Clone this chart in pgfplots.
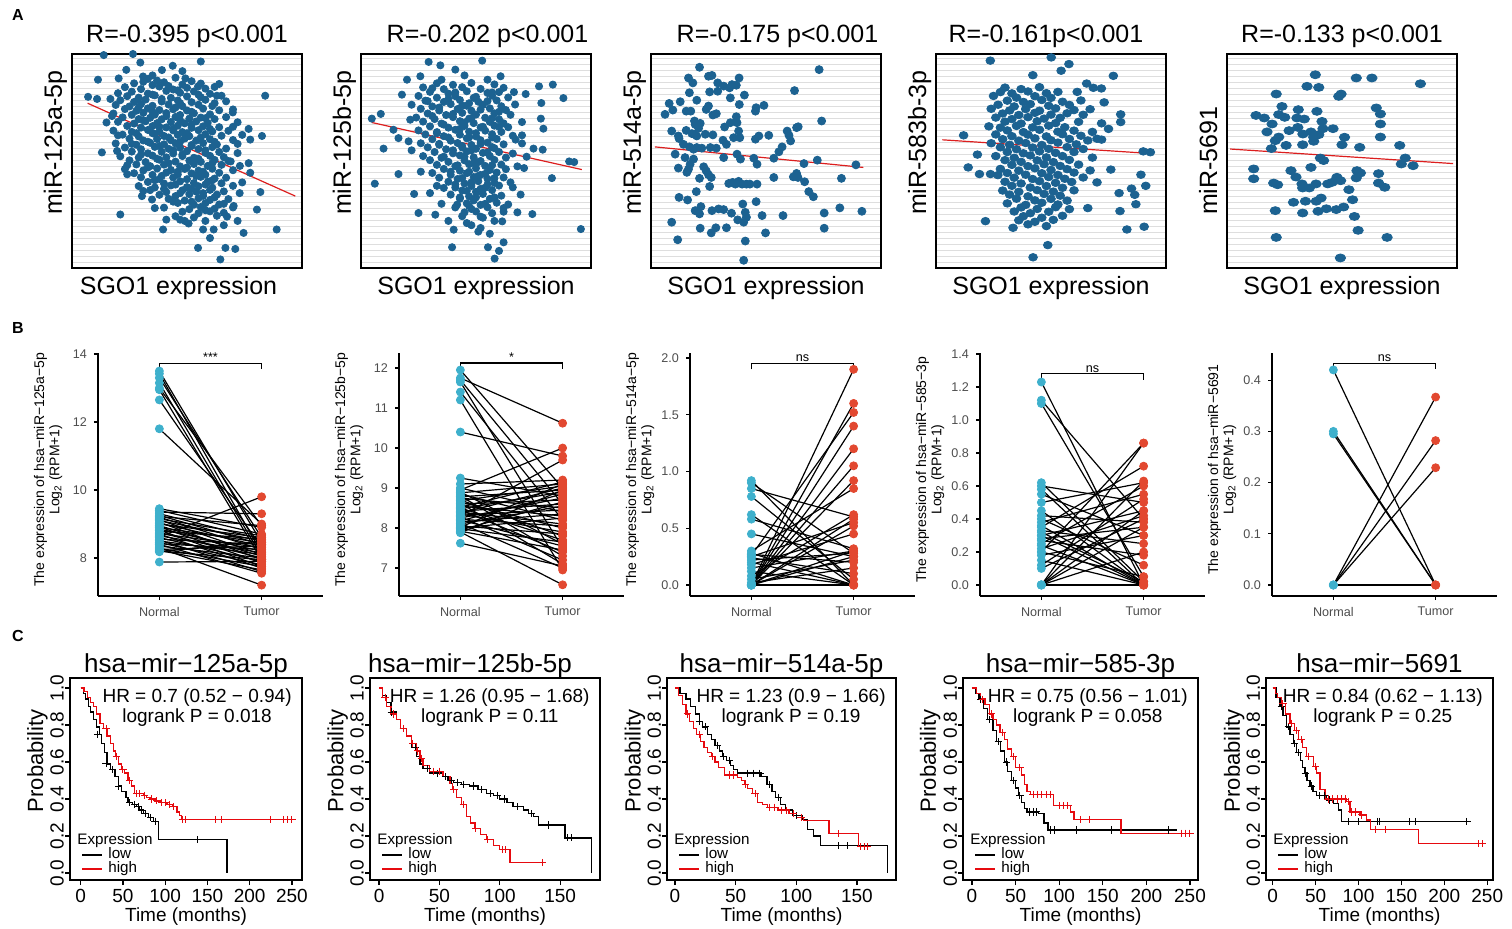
\documentclass[border=0pt]{standalone}
\usepackage{fontspec}
\setmainfont{Liberation Sans}
\usepackage{pgfplots}
\usepackage{pgfplotstable}
\pgfplotsset{compat=1.18}
\definecolor{ptA}{RGB}{28,98,145}
\definecolor{regA}{RGB}{220,30,30}
\definecolor{gridA}{RGB}{222,222,222}
\definecolor{cyanB}{RGB}{62,176,204}
\definecolor{redB}{RGB}{226,72,48}
\definecolor{tickgray}{RGB}{77,77,77}
\definecolor{kmred}{RGB}{230,10,15}
\newcommand\fsA{\fontsize{12.5}{14}\selectfont}
\newcommand\fsBt{\fontsize{6.3}{7.5}\selectfont}
\newcommand\fsBl{\fontsize{7}{7.6}\selectfont}
\newcommand\fsCt{\fontsize{9.5}{11}\selectfont}
\newcommand\fsCT{\fontsize{13}{15}\selectfont}
\newcommand\fsHR{\fontsize{9.5}{10.2}\selectfont}
\newcommand\fsL{\fontsize{7.6}{8}\selectfont}
\newcommand\fsP{\fontsize{11}{12}\selectfont}

\pgfplotstableread[row sep=\\]{N T\\
13.50 8.45\\ 13.42 8.15\\ 13.30 8.60\\ 13.15 8.05\\ 13.00 8.95\\ 12.95 7.95\\ 12.65 8.30\\ 11.80 9.00\\
9.45 8.90\\ 9.40 8.70\\ 9.35 9.30\\ 9.30 8.55\\ 9.25 8.40\\ 9.22 8.95\\ 9.20 8.25\\ 9.15 8.65\\
9.12 8.10\\ 9.10 8.50\\ 9.05 7.95\\ 9.02 8.35\\ 9.00 8.60\\ 8.95 8.05\\ 8.92 7.85\\ 8.90 8.45\\
8.85 8.20\\ 8.82 7.75\\ 8.80 8.55\\ 8.75 8.00\\ 8.72 8.30\\ 8.70 7.70\\ 8.65 8.15\\ 8.62 9.80\\
8.60 7.90\\ 8.55 8.40\\ 8.52 7.60\\ 8.50 8.10\\ 8.45 7.80\\ 8.42 8.25\\ 8.40 7.55\\ 8.35 8.00\\
8.30 7.20\\ 8.28 7.75\\ 8.25 8.35\\ 8.22 7.65\\ 8.20 7.95\\ 8.18 8.50\\ 7.88 7.90\\}\tabBa
\pgfplotstableread[row sep=\\]{N T\\
11.95 9.00\\ 11.75 10.62\\ 11.70 8.60\\ 11.65 7.50\\ 11.40 8.20\\ 11.20 6.95\\ 10.40 9.80\\ 9.25 8.80\\
9.10 9.20\\ 9.00 8.40\\ 8.95 10.00\\ 8.90 7.60\\ 8.88 9.10\\ 8.85 8.20\\ 8.80 7.30\\ 8.78 8.95\\
8.75 8.50\\ 8.70 7.80\\ 8.68 9.05\\ 8.65 8.00\\ 8.62 7.10\\ 8.60 8.70\\ 8.55 8.30\\ 8.52 9.15\\
8.50 7.70\\ 8.48 8.90\\ 8.45 7.40\\ 8.42 8.60\\ 8.40 8.10\\ 8.38 9.00\\ 8.35 7.90\\ 8.32 8.45\\
8.30 9.70\\ 8.28 7.20\\ 8.25 8.75\\ 8.22 8.05\\ 8.20 7.55\\ 8.18 8.85\\ 8.15 8.35\\ 8.12 7.00\\
8.10 8.55\\ 8.05 7.85\\ 8.02 9.10\\ 8.00 8.25\\ 7.98 7.65\\ 7.95 8.65\\ 7.92 7.45\\ 7.90 6.58\\
7.88 8.95\\ 7.62 7.05\\}\tabBb
\pgfplotstableread[row sep=\\]{N T\\
0.92 0.00\\ 0.90 0.28\\ 0.85 0.60\\ 0.78 0.05\\ 0.62 0.00\\ 0.58 0.32\\ 0.45 0.25\\ 0.30 0.85\\
0.28 0.00\\ 0.27 0.20\\ 0.26 1.52\\ 0.25 0.55\\ 0.24 0.10\\ 0.22 0.28\\ 0.20 0.00\\ 0.18 0.45\\
0.15 0.30\\ 0.12 0.00\\ 0.08 0.62\\ 0.05 0.22\\ 0.00 1.90\\ 0.00 1.60\\ 0.00 1.40\\ 0.00 1.20\\
0.00 1.05\\ 0.00 0.92\\ 0.00 0.52\\ 0.00 0.58\\ 0.00 0.25\\ 0.00 0.00\\ 0.00 0.30\\ 0.02 0.15\\}\tabBc
\pgfplotstableread[row sep=\\]{N T\\
1.23 0.00\\ 1.12 0.40\\ 1.10 0.05\\ 0.62 0.02\\ 0.60 0.50\\ 0.58 0.00\\ 0.55 0.30\\ 0.50 0.62\\
0.45 0.00\\ 0.42 0.38\\ 0.40 0.12\\ 0.38 0.55\\ 0.36 0.00\\ 0.35 0.72\\ 0.33 0.25\\ 0.32 0.02\\
0.30 0.45\\ 0.30 0.00\\ 0.28 0.35\\ 0.27 0.18\\ 0.25 0.60\\ 0.24 0.00\\ 0.22 0.42\\ 0.20 0.05\\
0.20 0.86\\ 0.18 0.30\\ 0.15 0.00\\ 0.12 0.52\\ 0.10 0.40\\ 0.00 0.86\\ 0.00 0.63\\ 0.00 0.35\\
0.00 0.00\\ 0.00 0.45\\ 0.00 0.20\\}\tabBd
\pgfplotstableread[row sep=\\]{N T\\
0.42 0.0\\ 0.30 0.0\\ 0.295 0.0\\ 0.0 0.367\\ 0.0 0.282\\ 0.0 0.229\\ 0.0 0.0\\}\tabBe

\pgfplotsset{
  /pgf/number format/assume math mode=true,
  stA/.style={scale only axis, width=115pt, height=107pt, anchor=south west,
    xmin=0, xmax=100, ymin=0, ymax=100, xtick=\empty, ytick distance=2.8, yticklabels={},
    major tick length=0pt, ymajorgrids, grid style={color=gridA, line width=0.5pt},
    axis line style={line width=1pt},
    title style={font=\fsA, anchor=base, at={(axis description cs:0.5,1)}, yshift=0pt},
    xlabel={SGO1 expression},
    xlabel style={font=\fsA, anchor=base, at={(axis description cs:0.5,-0.126)}},
    ylabel style={font=\fsA, anchor=base west, at={(axis description cs:-0.0435,0.215)}}},
  dotA/.style={only marks, mark=*, mark size=1.8pt, color=ptA, mark options={fill=ptA, draw=ptA}},
  regA/.style={no marks, color=regA, line width=0.6pt},
  stB/.style={scale only axis, width=112.5pt, height=121.5pt, anchor=south west, clip=false,
    xmin=0.4, xmax=2.6, xtick={1,2}, xticklabels={Normal,Tumor},
    axis x line*=bottom, axis y line*=left, tick align=outside, major tick length=2pt,
    axis line style={line width=0.6pt}, tick style={line width=0.6pt, black},
    ticklabel style={font=\fsBt, color=tickgray},
    ylabel style={font=\fsBl, align=center, anchor=center, at={(axis description cs:-0.222,0.52)}}},
  linB/.style={black, line width=0.6pt, no marks, quiver={u=1, v=\thisrow{T}-\thisrow{N}}},
  nB/.style={only marks, mark=*, mark size=2pt, color=cyanB},
  tB/.style={only marks, mark=*, mark size=2pt, color=redB},
  brB/.style={black, line width=0.6pt, no marks},
  stC/.style={scale only axis, height=101pt, anchor=south west, clip=false,
    ymin=-0.0378, ymax=1.054, ytick={0,0.2,0.4,0.6,0.8,1},
    tick pos=left, tick align=outside, major tick length=2.5pt,
    axis line style={line width=0.75pt}, tick style={line width=0.6pt, black},
    ticklabel style={font=\fsCt},
    yticklabel shift=-3pt, xticklabel shift=-1.5pt,
    yticklabel style={rotate=90, anchor=south, /pgf/number format/.cd, fixed, fixed zerofill, precision=1},
    title style={font=\fsCT, anchor=base, at={(axis description cs:0.5,1)}, yshift=-3pt},
    xlabel={Time (months)}, ylabel={Probability},
    xlabel style={font=\fsCt, anchor=base, at={(axis description cs:0.5,-0.205)}},
    ylabel style={font=\fsP, anchor=center, at={(axis description cs:-0.14,0.59)}}},
  kmB/.style={const plot, black, line width=0.65pt, no marks},
  kmR/.style={const plot, kmred, line width=0.65pt, no marks},
  cB/.style={only marks, mark=+, mark size=1.8pt, black, mark options={line width=0.5pt}},
  cR/.style={only marks, mark=+, mark size=1.8pt, kmred, mark options={line width=0.5pt}},
}
\newcommand\kmlegend{%
  \node[anchor=base west, font=\fsL, inner sep=0pt] at ([xshift=3.5pt,yshift=18pt]rel axis cs:0,0) {Expression};
  \draw[black, line width=0.7pt] ([xshift=6pt,yshift=12.5pt]rel axis cs:0,0) -- ([xshift=16pt,yshift=12.5pt]rel axis cs:0,0);
  \node[anchor=base west, font=\fsL, inner sep=0pt] at ([xshift=19pt,yshift=10.6pt]rel axis cs:0,0) {low};
  \draw[kmred, line width=0.7pt] ([xshift=6pt,yshift=5.6pt]rel axis cs:0,0) -- ([xshift=16pt,yshift=5.6pt]rel axis cs:0,0);
  \node[anchor=base west, font=\fsL, inner sep=0pt] at ([xshift=19pt,yshift=3.8pt]rel axis cs:0,0) {high};}
\newcommand\hr[2]{\node[anchor=north east, align=center, font=\fsHR, inner sep=0pt] at ([xshift=-5pt,yshift=-5pt]rel axis cs:1,1) {#1\\#2};}

\begin{document}
\begin{tikzpicture}
\path[use as bounding box] (0,0) rectangle (756pt,-464pt);
\node[font=\bfseries\fontsize{8}{9}\selectfont] at (9pt,-7.5pt) {A};
\node[font=\bfseries\fontsize{8}{9}\selectfont] at (9pt,-164pt) {B};
\node[font=\bfseries\fontsize{8}{9}\selectfont] at (9pt,-318pt) {C};

% ---------------- Row A ----------------
\begin{axis}[stA, at={(36pt,-134pt)}, title={R=-0.395 p<0.001}, ylabel={miR-125a-5p},
  xlabel style={at={(axis description cs:0.463,-0.126)}}]
\addplot[dotA] coordinates {
(13.8,99.5)(26.5,100)(29.7,96)(56,96.5)(43.8,94.5)(11.3,88)(23.6,92.6)(7,80)(10.9,79)(13,54)(21,25)(39.6,18)(54.8,9.4)(64.5,4)(66.7,9.4)(71,8.9)(74.6,16.4)(89,18)(84,80.5)(81.9,35.5)(76.8,65)(82.6,61.7)(80.4,27.3)(61.6,18)(57,18)(50.7,20.8)(41,22.6)(47,22.6)(30.4,33.6)(34.8,32)(24,43.8)(19.6,54.7)(17.4,71)(16.7,79)(20.3,88.6)(30.9,89.5)(39.1,92.5)(49.3,88.6)(54.8,84.8)(63,80.5)(69.9,72.7)(77.5,60)(73,47.7)(77.5,44.5)(76.8,49)(72.9,35)(70.3,29)(67.4,24)
(33,88.4)(37,87.6)(45,88.9)(52,87.3)
(27,86.3)(35,85.5)(40,86.8)(48,85.7)(56,86.2)
(23,84.5)(30,83.6)(38,84.8)(44,83.4)(50,84.2)(58,83.8)(62,84.6)
(20,81.7)(26,82.4)(33,81.5)(41,82.8)(47,81.9)(53,82.5)(60,81.4)
(24,80.3)(29,79.6)(36,80.7)(43,79.5)(50,80.2)(56,79.8)(65,80.5)
(21,78.4)(27,77.6)(32,78.7)(39,77.8)(46,78.3)(52,77.5)(58,78.6)(67,77.9)
(19,76.2)(25,75.5)(30,76.6)(35,75.8)(42,76.4)(48,75.6)(55,76.3)(61,75.7)
(23,74.3)(28,73.5)(33,74.6)(38,73.8)(44,74.2)(50,73.6)(57,74.5)(64,73.7)(70,74.1)
(18,72.2)(26,71.6)(31,72.5)(36,71.7)(41,72.4)(47,71.5)(53,72.3)(60,71.8)
(22,70.4)(29,69.6)(34,70.2)(39,69.5)(45,70.6)(51,69.8)(56,70.3)(62,69.6)(67,70.5)
(20,68.3)(27,67.5)(32,68.6)(37,67.7)(43,68.2)(49,67.6)(54,68.5)(59,67.8)(72,68.1)
(24,66.4)(30,65.6)(35,66.3)(41,65.7)(46,66.5)(52,65.5)(57,66.2)(64,65.8)
(18,64.2)(26,63.6)(33,64.5)(38,63.7)(44,64.3)(48,63.5)(55,64.4)(61,63.8)(68,64.1)
(22,62.3)(29,61.5)(36,62.6)(40,61.7)(46,62.2)(51,61.6)(58,62.5)(65,61.8)(74,62.2)
(25,60.4)(31,59.6)(37,60.3)(43,59.7)(49,60.5)(54,59.5)(60,60.2)(70,59.8)
(19,58.2)(28,57.6)(34,58.5)(40,57.8)(45,58.3)(52,57.5)(57,58.4)(63,57.7)
(23,56.3)(30,55.5)(36,56.6)(42,55.7)(47,56.2)(55,55.6)(61,56.5)(67,55.8)
(26,54.4)(33,53.6)(39,54.3)(44,53.5)(50,54.6)(58,53.8)(64,54.2)(72,53.7)
(21,52.2)(29,51.6)(35,52.5)(41,51.7)(48,52.3)(53,51.5)(60,52.4)(66,51.8)
(25,50.3)(32,49.5)(38,50.6)(45,49.7)(51,50.2)(56,49.6)(62,50.5)(69,49.8)
(28,48.4)(34,47.6)(40,48.3)(47,47.5)(53,48.6)(59,47.7)(65,48.2)
(23,46.2)(31,45.6)(37,46.5)(43,45.8)(49,46.3)(55,45.5)(61,46.4)(70,45.7)
(27,44.3)(35,43.5)(41,44.6)(46,43.7)(52,44.2)(58,43.6)(64,44.5)
(30,42.4)(38,41.6)(44,42.3)(50,41.5)(56,42.6)(62,41.8)(67,42.2)
(33,40.2)(40,39.5)(47,40.5)(53,39.7)(59,40.3)(65,39.6)
(29,38.3)(36,37.6)(43,38.6)(50,37.8)(55,38.2)(61,37.5)(70,38.4)
(34,36.4)(41,35.5)(48,36.3)(54,35.7)(60,36.5)(66,35.8)
(38,34.2)(45,33.6)(51,34.5)(57,33.7)(63,34.3)
(42,32.3)(49,31.5)(55,32.6)(60,31.8)(68,32.2)
(46,30.4)(53,29.6)(58,30.3)(64,29.7)
(40,28.2)(51,27.5)(56,28.5)(62,27.7)(70,28.3)
(48,26.3)(55,25.6)(60,26.5)(66,25.8)
(45,24.2)(53,23.6)(63,24.4)
(31,87)(42,85)(46,83)(35,81)(55,81)(39,79)(47,77)(62,77)(29,75)(45,75)(52,73)(35,73)(41,71)(58,70)(31,69)(47,69)(52,67)(38,66)(44,65)(60,65)(28,63)(35,63)(50,63)(42,61)(56,61)(33,59)(47,59)(62,59)(38,57)(52,57)(44,55)(58,55)(30,53)(48,53)(37,51)(55,51)(42,49)(61,49)(33,47)(50,47)(46,45)(57,45)(39,43)(54,43)(36,41)(61,41)(45,39)(58,39)(52,37)(40,37)(57,35)(47,35)(44,31)(62,33)(52,31)(58,27)(49,22)(58,22)(66,20)(60,14)(35,90)(48,92)(64,86)(70,66)(72,58)(68,50)(74,40)(66,30)(72,22)(26,58)(24,48)(20,62)(15,68)(31,36)(36,28)};
\addplot[regA] coordinates {(6.8,77)(97.1,33.6)};
\end{axis}

\begin{axis}[stA, at={(180.5pt,-134pt)}, title={R=-0.202 p<0.001}, ylabel={miR-125b-5p},
  title style={at={(axis description cs:0.55,1)}}]
\addplot[dotA] coordinates {
(29.4,96.3)(52.7,96.9)(41,92.7)(34.5,94.7)(60.7,89.6)(4.7,69.8)(8.6,72)(6,39.4)(9.8,55.8)(16.3,43.9)(25,25.7)(23.1,34.6)(32.3,24.9)(39.6,9.7)(40.3,17.9)(55.2,9.7)(58.1,4.4)(95.6,18.2)(83,42)(74.5,25.2)(90.5,49.8)(92.7,49.5)(88,79.4)(83.4,85.7)(77.4,84.9)(78.4,77.1)(78.2,69.8)(79.3,65.1)(75,55.8)(79,55.3)(71.6,81.3)(66.5,82.2)(20,88)(25.8,89.6)(17.8,81)(14.1,64.6)(21.4,69.3)(52,18.7)(46,21)(51,17)(61.4,21.8)(68,26)(41.8,29.6)(36,37.4)(69.4,34.3)(70.9,46.7)(67.2,60)(16.3,60.7)(20.7,59.2)
(33,86.3)(40,85.6)(48,86.5)(58,85.8)
(27,84.4)(36,83.6)(44,84.5)(52,83.7)(62,84.2)
(30,82.3)(38,81.5)(46,82.6)(55,81.8)(60,82.2)
(25,80.4)(33,79.6)(41,80.3)(49,79.5)(57,80.5)(64,79.7)
(28,78.2)(36,77.6)(43,78.5)(51,77.7)(59,78.3)
(22,76.3)(31,75.5)(39,76.6)(46,75.8)(53,76.2)(61,75.6)(67,76.4)
(26,74.4)(34,73.6)(42,74.3)(48,73.5)(56,74.6)(63,73.8)
(29,72.2)(37,71.5)(44,72.5)(50,71.7)(58,72.3)(65,71.6)
(24,70.3)(32,69.6)(40,70.5)(47,69.8)(54,70.2)(60,69.5)
(27,68.4)(35,67.5)(43,68.6)(49,67.7)(56,68.3)(62,67.6)(70,68.2)
(30,66.2)(38,65.6)(45,66.4)(52,65.7)(58,66.5)(64,65.8)
(25,64.3)(33,63.5)(41,64.6)(47,63.7)(54,64.2)(61,63.6)
(28,62.4)(36,61.6)(43,62.3)(50,61.5)(57,62.5)(66,61.8)
(31,60.2)(39,59.5)(46,60.6)(52,59.7)(59,60.3)
(26,58.3)(34,57.6)(42,58.4)(48,57.5)(55,58.6)(62,57.8)(70,58.2)
(29,56.4)(37,55.5)(44,56.3)(50,55.7)(57,56.5)
(32,54.2)(40,53.6)(46,54.5)(53,53.8)(60,54.2)(66,53.5)
(27,52.3)(35,51.5)(43,52.6)(49,51.7)(56,52.3)(63,51.6)
(30,50.4)(38,49.6)(45,50.3)(51,49.5)(58,50.5)
(33,48.2)(41,47.6)(47,48.5)(54,47.7)(61,48.3)(68,47.5)
(36,46.3)(43,45.5)(50,46.6)(56,45.8)(63,46.2)
(31,44.4)(39,43.6)(46,44.3)(52,43.5)(59,44.6)
(34,42.2)(42,41.6)(49,42.5)(55,41.7)(62,42.3)
(38,40.3)(45,39.5)(51,40.6)(58,39.8)
(33,38.4)(41,37.6)(48,38.3)(54,37.5)(60,38.5)(66,37.7)
(44,36.2)(50,35.6)(57,36.4)
(39,34.3)(47,33.5)(53,34.6)(61,33.8)
(43,32.4)(49,31.6)(56,32.3)
(46,30.2)(52,29.5)(59,30.5)(64,29.7)
(41,28.3)(48,27.6)(55,28.4)
(50,26.4)(57,25.6)(62,26.3)
(44,24.2)(53,23.5)
(35,88)(45,90)(55,88)(31,84)(41,82)(50,80)(57,82)(29,78)(38,79)(47,77)(55,78)(34,75)(44,76)(52,74)(60,73)(31,71)(40,72)(48,70)(57,70)(36,67)(45,68)(53,66)(60,66)(33,63)(43,65)(50,63)(57,61)(38,61)(47,61)(34,58)(44,57)(52,58)(58,56)(40,55)(48,55)(55,54)(36,52)(45,52)(52,50)(42,48)(49,49)(57,48)(39,45)(47,45)(54,44)(44,42)(51,43)(58,42)(41,39)(48,40)(55,39)(46,36)(52,37)(43,33)(50,33)(58,33)(47,29)(54,30)(45,26)(52,24)(58,22)(48,20)(56,16)(62,12)(35,30)(30,35)(26,45)(22,55)(70,62)(72,52)(65,40)(62,28)(38,22)(60,8)};
\addplot[regA] coordinates {(4.7,68)(96,46)};
\end{axis}

\begin{axis}[stA, at={(325.5pt,-134pt)}, title={R=-0.175 p<0.001}, ylabel={miR-514a-5p},
  title style={at={(axis description cs:0.55,1)}}]
\addplot[dotA, mark size=2pt] coordinates {
(21.1,93.8)(73.1,92.7)(16.3,88.8)(18.2,86.5)(25,89.6)(26.5,90)(29,86.5)(31.6,85)(34.2,84.2)(35.2,85.7)(37.1,85.4)(38.3,88.8)(34.5,79.5)(40.6,80.8)(16.7,81.9)(25.5,82.3)(29,82.6)(62.4,82.9)
(7.9,76.9)(9.5,73.8)(12.7,77.7)(6.1,71.8)(15.3,73.3)(17.3,73.3)(19.9,78.4)(24,74.1)(26.9,71.5)(28.4,72.1)(25,75.7)(38.4,76.4)(45.7,74.9)(49.1,76)(45.4,73.3)(37.1,70.7)(74.2,68.7)
(9,64)(11.9,61.7)(12.2,60.5)(15.3,64.3)(18.9,68.7)(19.2,67.1)(21.4,67.6)(20.7,65.3)(17.8,62.8)(18.8,62.5)(19.9,61.7)(23.6,62.5)(26.9,62.2)(32,65.9)(34.5,67.9)(37.4,67.9)(38.1,64)(35.9,60.9)(31.3,59.7)(32.8,57.8)(38.6,60.9)(45.4,60.2)(46.9,61.7)(51.2,62)(60,62)(60.7,59.4)(59.2,64)(63.3,65.6)(64,66)
(14.1,57.8)(16.7,56.6)(18.5,55.5)(19.9,56.3)(22.1,56)(25.8,56.3)(28.4,56)(10.5,53.2)(14.8,51.6)(18.5,50.9)(31.6,51.6)(37.4,53.2)(38.9,50.9)(44.7,51.3)(53.4,51.3)(55.6,54.3)(57,56.6)(66.5,48.8)(72.3,50.4)(89.1,48.2)
(11.9,46.7)(17,48.5)(16.3,46.2)(15.6,44.7)(22.9,47.3)(24,45.4)(25,43.6)(26.2,42.3)(21.1,41.9)(25.5,38.1)(46.1,48.5)(53.4,42.3)(61.9,42.6)(63.3,44.2)(63.9,42.3)(66.8,40.3)(82.8,41.9)
(19.7,35.7)(33.8,39.5)(35.5,40)(36.7,39.2)(38.1,40.5)(39.6,39.2)(41.5,39.2)(43,39.2)(46.1,39.2)(68.6,35.7)(70.6,33.3)
(12.2,33)(15.9,31.8)(45.7,31)(39.9,29.9)
(19.2,26.8)(21.7,28.7)(21.1,25.3)(26.5,26.8)(29.4,27.6)(31.6,27.3)(35,25.6)(41,26)(41.5,23.7)(37.7,22.5)(40.3,21.4)(48.3,24.5)(57.4,24.5)(75.3,25.7)(82.1,28.1)(91.7,26.5)
(9,21.4)(21.4,18.6)(26.2,16.4)(28.2,18.8)(32.8,18.8)(49.8,16.4)(75.3,18.6)
(11.6,13.2)(41,12.6)(40.3,3.6)};
\addplot[regA] coordinates {(1.7,56.6)(92.3,47)};
\end{axis}

\begin{axis}[stA, at={(468pt,-134pt)}, title={R=-0.161p<0.001}, ylabel={miR-583b-3p},
  title style={at={(axis description cs:0.478,1)}}]
\addplot[dotA, mark size=1.9pt, mark options={xscale=1.15}] coordinates {
(23.6,96.9)(50.1,98.4)(57.8,95.3)(54.4,92.2)(42.1,90.1)(77.1,89.8)(18,53)(18.9,43.9)(21.5,21.9)(33.5,18.8)(48.6,10.7)(42.2,5)(83,18)(90.5,19.3)(93.2,54.1)(90.1,54.5)(91.2,38.4)(89.1,43.6)(85,37.1)(86.4,34.2)(86.9,29.8)(79.6,35)(80,26.6)(75,65)(80.3,68.2)(80.3,71.8)(73.1,77.4)(65.5,86.2)(68.4,84.2)(71.9,83.9)(61.4,82.3)(23.7,43.9)(26.9,43.4)(72,60)(76,46)(70,40)(66,28)(14,47)(12,62)
(30,84.3)(37,83.6)(45,84.5)
(28,82.2)(33,81.6)(40,82.5)(48,81.7)(53,82.3)
(25,80.4)(35,79.6)(43,80.3)(50,79.5)
(31,78.2)(38,77.6)(46,78.5)(55,77.7)(63,78.3)
(27,76.3)(34,75.5)(41,76.6)(49,75.8)(58,76.2)
(24,74.4)(32,73.6)(39,74.3)(45,73.5)(52,74.6)(60,73.8)(67,74.2)
(29,72.2)(36,71.5)(43,72.5)(50,71.7)(57,72.3)(64,71.6)
(26,70.3)(33,69.6)(40,70.5)(47,69.8)(54,70.2)
(30,68.4)(37,67.5)(44,68.6)(52,67.7)(62,68.3)(72,67.6)
(23,66.2)(28,65.6)(35,66.4)(42,65.7)(49,66.5)(56,65.8)
(31,64.3)(38,63.5)(45,64.6)(53,63.7)(60,64.2)(68,63.6)
(26,62.4)(33,61.6)(40,62.3)(48,61.5)(55,62.5)(63,61.8)
(29,60.2)(36,59.5)(43,60.6)(50,59.7)(58,60.3)(66,59.6)(70,60.4)
(24,58.3)(32,57.6)(39,58.4)(46,57.5)(53,58.6)(61,57.8)
(28,56.4)(35,55.5)(42,56.3)(49,55.7)(57,56.5)(64,55.6)
(31,54.2)(38,53.6)(45,54.5)(52,53.8)(60,54.2)
(26,52.3)(34,51.5)(41,52.6)(48,51.7)(55,52.3)(68,51.6)
(30,50.4)(37,49.6)(44,50.3)(51,49.5)(58,50.5)
(33,48.2)(40,47.6)(47,48.5)(54,47.7)(62,48.3)
(28,46.3)(36,45.5)(43,46.6)(50,45.8)(57,46.2)(67,45.6)
(31,44.4)(39,43.6)(46,44.3)(53,43.5)(60,44.6)
(34,42.2)(42,41.6)(49,42.5)(56,41.7)(64,42.3)
(30,40.3)(37,39.5)(45,40.6)(52,39.8)(59,40.2)
(33,38.4)(41,37.6)(48,38.3)(55,37.5)
(29,36.2)(36,35.6)(44,36.4)(51,35.7)(60,36.3)
(32,34.3)(40,33.5)(47,34.6)(54,33.8)
(35,32.4)(43,31.6)(50,32.3)(57,31.5)
(31,30.2)(39,29.5)(46,30.5)(53,29.7)
(37,28.3)(44,27.6)(52,28.4)(58,27.5)
(34,26.4)(41,25.6)(49,26.3)
(38,24.2)(46,23.5)(55,24.4)
(36,22.3)(43,21.6)(51,22.5)
(40,20.4)(48,19.6)};
\addplot[regA] coordinates {(2.8,59.9)(92,53.6)};
\end{axis}

\begin{axis}[stA, at={(613.5pt,-134pt)}, title={R=-0.133 p<0.001}, ylabel={miR-5691}]
\addplot[dotA, mark size=2pt, mark options={xscale=1.3}] coordinates {
(38.4,90.3)(56.2,88.8)(63,88.8)(84.1,86.1)(34.8,84.9)(39.9,84.4)(21.4,81.3)(48.6,80.2)(49.6,81.3)(23.9,75.5)(31,74)(39.1,73.2)(64.9,74.8)(66.7,72)(12.6,71.3)(16.2,70.1)(22.5,71.7)(25.1,70.4)(30.4,70.1)(33.6,69.6)(19.6,67.3)(41.3,68.5)(66.7,67.3)(17.4,63.6)(27,64.2)(30.8,65.7)(33,62.6)(36.5,63.6)(39.9,62.3)(41.7,65.1)(46.1,65.1)(21,59.5)(22.5,61.2)(37.7,61.1)(37.7,59.2)(51.1,61.1)(66.7,61.2)(25.7,57.3)(32.9,57.6)(50,57.6)(57.7,56.4)(75.1,57.3)(19.3,55.8)(40.6,51.4)(42,50.2)(77.5,51.4)(75.8,48.6)(80.9,47.8)(11.6,46.3)(11.6,41.7)(27.8,45.5)(30,42.5)(36.5,47)(56.5,45.5)(58,44.4)(56.2,42.1)(65.9,44.1)(20.3,39.7)(22,38.9)(32.6,39.3)(32.9,37.4)(35.8,37.4)(38.7,39.3)(43.8,39.3)(45.7,40)(47.8,42.4)(49.4,40.8)(65.9,39.7)(68.6,37.7)(53,36.6)(28.9,30.7)(34.1,31.2)(38.8,31.2)(40.9,32.7)(54.6,31.9)(21,26.8)(32.9,25.7)(39.6,26.5)(43.2,27.7)(47.5,27.3)(50.7,28.5)(55.4,24.1)(57,17.6)(21.4,14.3)(69.6,14.3)(49.3,4.7)};
\addplot[regA] coordinates {(1.4,55.6)(98.3,48.8)};
\end{axis}

% ---------------- Row B ----------------
\begin{axis}[stB, at={(49pt,-298pt)}, ymin=6.88, ymax=14.03, ytick={8,10,12,14},
  ylabel={The expression of hsa−miR−125a−5p\\Log\textsubscript{2} (RPM+1)}]
\addplot[linB] table[x expr=1, y=N] {\tabBa};
\addplot[nB] table[x expr=1, y=N] {\tabBa};
\addplot[tB] table[x expr=2, y=T] {\tabBa};
\addplot[brB] coordinates {(1,13.55)(1,13.73)(2,13.73)(2,13.55)};
\node[font=\fsBt, anchor=base] at (axis cs:1.5,13.78) {***};
\end{axis}

\begin{axis}[stB, at={(199.5pt,-298pt)}, ymin=6.3, ymax=12.375, ytick={7,8,9,10,11,12},
  ylabel={The expression of hsa−miR−125b−5p\\Log\textsubscript{2} (RPM+1)}]
\addplot[linB] table[x expr=1, y=N] {\tabBb};
\addplot[nB] table[x expr=1, y=N] {\tabBb};
\addplot[tB] table[x expr=2, y=T] {\tabBb};
\addplot[brB] coordinates {(1,11.975)(1,12.125)(2,12.125)(2,11.975)};
\node[font=\fsBt, anchor=base] at (axis cs:1.5,12.17) {*};
\end{axis}

\begin{axis}[stB, at={(345pt,-298pt)}, ymin=-0.097, ymax=2.044, ytick={0,0.5,1,1.5,2},
  yticklabel style={/pgf/number format/.cd, fixed, fixed zerofill, precision=1},
  ylabel={The expression of hsa−miR−514a−5p\\Log\textsubscript{2} (RPM+1)}]
\addplot[linB] table[x expr=1, y=N] {\tabBc};
\addplot[nB] table[x expr=1, y=N] {\tabBc};
\addplot[tB] table[x expr=2, y=T] {\tabBc};
\addplot[brB] coordinates {(1,1.90)(1,1.95)(2,1.95)(2,1.90)};
\node[font=\fsBt, anchor=base] at (axis cs:1.5,1.965) {ns};
\end{axis}

\begin{axis}[stB, at={(490pt,-298pt)}, ymin=-0.067, ymax=1.406, ytick={0,0.2,0.4,0.6,0.8,1,1.2,1.4},
  yticklabel style={/pgf/number format/.cd, fixed, fixed zerofill, precision=1},
  ylabel={The expression of hsa−miR−585−3p\\Log\textsubscript{2} (RPM+1)}]
\addplot[linB] table[x expr=1, y=N] {\tabBd};
\addplot[nB] table[x expr=1, y=N] {\tabBd};
\addplot[tB] table[x expr=2, y=T] {\tabBd};
\addplot[brB] coordinates {(1,1.245)(1,1.28)(2,1.28)(2,1.245)};
\node[font=\fsBt, anchor=base] at (axis cs:1.5,1.29) {ns};
\end{axis}

\begin{axis}[stB, at={(636pt,-298pt)}, ymin=-0.0215, ymax=0.453, ytick={0,0.1,0.2,0.3,0.4},
  yticklabel style={/pgf/number format/.cd, fixed, fixed zerofill, precision=1},
  ylabel={The expression of hsa−miR−5691\\Log\textsubscript{2} (RPM+1)}]
\addplot[linB] table[x expr=1, y=N] {\tabBe};
\addplot[nB] table[x expr=1, y=N] {\tabBe};
\addplot[tB] table[x expr=2, y=T] {\tabBe};
\addplot[brB] coordinates {(1,0.422)(1,0.433)(2,0.433)(2,0.422)};
\node[font=\fsBt, anchor=base] at (axis cs:1.5,0.436) {ns};
\end{axis}

% ---------------- Row C ----------------
\begin{axis}[stC, at={(35pt,-440pt)}, width=116pt, xmin=-12.6, xmax=261.9,
  xtick={0,50,100,150,200,250}, title={hsa−mir−125a-5p}]
\addplot[kmB] coordinates {(0,1)(3,0.97)(6,0.94)(9,0.9)(12,0.87)(15,0.83)(19,0.79)(22,0.75)(25,0.7)(28,0.65)(31,0.59)(35,0.56)(40.5,0.52)(44.5,0.47)(48,0.44)(53.5,0.41)(56,0.38)(61,0.37)(66,0.36)(70,0.34)(74,0.32)(80,0.30)(86,0.28)(92,0.18)(173,0)};
\addplot[kmR] coordinates {(0,1)(4,0.98)(8,0.95)(12,0.92)(15,0.9)(19,0.86)(23,0.81)(27,0.78)(31,0.74)(35,0.7)(38.6,0.66)(41,0.63)(44.5,0.59)(48,0.56)(52,0.54)(56,0.5)(60,0.47)(64,0.43)(74,0.42)(78,0.41)(82,0.40)(88,0.39)(94,0.38)(102,0.37)(109,0.36)(114,0.33)(117,0.31)(119,0.29)(253,0.29)};
\addplot[cB] coordinates {(20,0.75)(30,0.59)(38,0.56)(45,0.47)(58,0.38)(64,0.37)(68,0.36)(72,0.34)(77,0.32)(83,0.30)(88,0.28)(138,0.18)};
\addplot[cR] coordinates {(30,0.78)(42,0.63)(50,0.56)(58,0.5)(66,0.43)(70,0.43)(76,0.42)(84,0.40)(90,0.39)(96,0.38)(100,0.38)(105,0.37)(110,0.36)(121,0.29)(124,0.29)(160,0.29)(167,0.29)(225,0.29)(240,0.29)(245,0.29)(250,0.29)};
\hr{HR = 0.7 (0.52 − 0.94)}{logrank P = 0.018}
\kmlegend
\end{axis}

\begin{axis}[stC, at={(185pt,-440pt)}, width=115pt, xmin=-7.5, xmax=183,
  xtick={0,50,100,150}, title={hsa−mir−125b-5p}, title style={at={(axis description cs:0.435,1)}}]
\addplot[kmB] coordinates {(0,1)(3,0.96)(6,0.92)(10,0.87)(14.4,0.83)(18,0.78)(22.7,0.74)(27,0.68)(31,0.63)(34,0.59)(36.5,0.565)(42,0.54)(53,0.52)(57,0.50)(61.4,0.49)(68,0.48)(75,0.47)(82,0.45)(89,0.43)(95,0.42)(100,0.40)(106,0.38)(111,0.36)(119.5,0.34)(124,0.32)(128,0.305)(132,0.26)(154,0.19)(176,0)};
\addplot[kmR] coordinates {(0,1)(3,0.95)(6,0.9)(10,0.86)(14.4,0.83)(18,0.78)(22.7,0.74)(27,0.70)(31,0.66)(34,0.62)(36.5,0.58)(42,0.55)(53,0.52)(58.7,0.485)(61,0.45)(64,0.41)(68,0.37)(72.5,0.305)(76,0.27)(79.4,0.24)(84,0.21)(89,0.18)(95,0.15)(100,0.126)(108.5,0.057)(135.6,0.057)};
\addplot[cB] coordinates {(10,0.87)(20,0.78)(30,0.68)(40,0.565)(48,0.54)(55,0.52)(60,0.50)(65,0.49)(70,0.48)(78,0.47)(85,0.45)(92,0.43)(98,0.42)(104,0.40)(115,0.36)(126,0.32)(140,0.26)(156,0.19)(159,0.19)};
\addplot[cR] coordinates {(5,0.95)(12,0.86)(20,0.78)(28,0.70)(32,0.66)(35,0.62)(45,0.55)(50,0.55)(62,0.45)(70,0.37)(80,0.24)(90,0.18)(102,0.126)(105,0.126)(135,0.057)};
\hr{HR = 1.26 (0.95 − 1.68)}{logrank P = 0.11}
\kmlegend
\end{axis}

\begin{axis}[stC, at={(333.5pt,-440pt)}, width=114.5pt, xmin=-6.6, xmax=182.2,
  xtick={0,50,100,150}, title={hsa−mir−514a-5p}]
\addplot[kmB] coordinates {(0,1)(4,0.97)(9,0.94)(13,0.9)(16.7,0.86)(20,0.82)(22.7,0.79)(27,0.75)(30.3,0.72)(33,0.69)(36.4,0.66)(39,0.63)(42.4,0.61)(46,0.58)(48.5,0.56)(51.5,0.54)(71,0.52)(75.8,0.48)(80,0.44)(83,0.41)(87,0.37)(91,0.34)(97,0.31)(105,0.29)(109,0.236)(114,0.2)(120,0.147)(175,0)};
\addplot[kmR] coordinates {(0,1)(3,0.96)(6,0.91)(9,0.86)(12,0.82)(15,0.78)(18,0.75)(21,0.71)(24,0.68)(27,0.65)(30,0.63)(33,0.6)(36,0.57)(41,0.53)(51.5,0.515)(55,0.5)(57.6,0.48)(60,0.455)(63.6,0.43)(68,0.38)(72,0.37)(76,0.355)(85,0.34)(94,0.32)(100,0.30)(106,0.285)(127,0.213)(151.5,0.142)(159,0.142)};
\addplot[cB] coordinates {(20,0.82)(25,0.79)(35,0.69)(40,0.63)(45,0.61)(60,0.54)(65,0.54)(70,0.54)(78,0.48)(85,0.41)(100,0.31)(135,0.147)(142,0.147)};
\addplot[cR] coordinates {(10,0.86)(20,0.75)(31,0.63)(45,0.53)(48,0.53)(58,0.48)(66,0.43)(78,0.355)(82,0.355)(88,0.34)(92,0.34)(98,0.32)(104,0.30)(135,0.213)(153,0.142)(156,0.142)(159,0.142)};
\hr{HR = 1.23 (0.9 − 1.66)}{logrank P = 0.19}
\kmlegend
\end{axis}

\begin{axis}[stC, at={(481.5pt,-440pt)}, width=117.5pt, xmin=-10.3, xmax=259.2,
  xtick={0,50,100,150,200,250}, title={hsa−mir−585-3p}]
\addplot[kmB] coordinates {(0,1)(4,0.97)(8,0.94)(13,0.89)(18,0.83)(24,0.77)(28,0.71)(32.6,0.66)(37,0.6)(41,0.55)(45,0.5)(50,0.46)(53,0.42)(56.5,0.38)(60,0.35)(63,0.33)(76,0.32)(82.6,0.27)(87,0.233)(235,0.233)};
\addplot[kmR] coordinates {(0,1)(5,0.97)(10,0.94)(15,0.91)(20,0.86)(24,0.83)(28,0.80)(32,0.76)(37,0.72)(41,0.67)(45.6,0.63)(50,0.57)(56.5,0.53)(60,0.48)(63,0.44)(67.4,0.426)(93.5,0.364)(113,0.33)(117,0.29)(171,0.215)(250,0.215)};
\addplot[cB] coordinates {(10,0.94)(20,0.83)(30,0.71)(40,0.6)(48,0.5)(55,0.42)(66,0.33)(70,0.33)(74,0.33)(90,0.233)(95,0.233)(120,0.233)(160,0.233)(225,0.233)};
\addplot[cR] coordinates {(12,0.94)(22,0.86)(35,0.76)(48,0.63)(55,0.57)(70,0.426)(75,0.426)(80,0.426)(85,0.426)(90,0.426)(100,0.364)(105,0.364)(110,0.364)(125,0.29)(135,0.29)(240,0.215)(245,0.215)(250,0.215)};
\hr{HR = 0.75 (0.56 − 1.01)}{logrank P = 0.058}
\kmlegend
\end{axis}

\begin{axis}[stC, at={(633pt,-440pt)}, width=113.5pt, xmin=-7.8, xmax=256.7,
  xtick={0,50,100,150,200,250}, title={hsa−mir−5691}]
\addplot[kmB] coordinates {(0,1)(4,0.95)(8.5,0.9)(12,0.85)(16,0.79)(20,0.75)(24,0.70)(28,0.65)(32,0.61)(35,0.57)(37.7,0.54)(40,0.5)(43.5,0.47)(47,0.44)(51,0.42)(63,0.395)(70.7,0.377)(76.5,0.34)(80.4,0.278)(230.6,0.278)};
\addplot[kmR] coordinates {(0,1)(3,0.97)(6,0.95)(10.5,0.915)(15,0.86)(20,0.81)(25,0.77)(30,0.72)(35,0.68)(39.6,0.63)(47.4,0.575)(51,0.54)(55,0.45)(61,0.40)(86,0.386)(90,0.33)(101.7,0.314)(109.5,0.287)(114,0.237)(169.6,0.158)(247,0.158)};
\addplot[cB] coordinates {(10,0.9)(18,0.79)(25,0.70)(30,0.65)(38,0.54)(45,0.47)(55,0.42)(60,0.42)(66,0.395)(88,0.278)(100,0.278)(122,0.278)(125,0.278)(159,0.278)(166,0.278)(226,0.278)};
\addplot[cR] coordinates {(12,0.915)(22,0.81)(28,0.77)(33,0.72)(42,0.63)(50,0.575)(65,0.40)(70,0.40)(75,0.40)(80,0.40)(85,0.40)(88,0.386)(92,0.33)(96,0.33)(104,0.314)(120,0.237)(131,0.237)(240,0.158)(244,0.158)};
\hr{HR = 0.84 (0.62 − 1.13)}{logrank P = 0.25}
\kmlegend
\end{axis}
\end{tikzpicture}
\end{document}
